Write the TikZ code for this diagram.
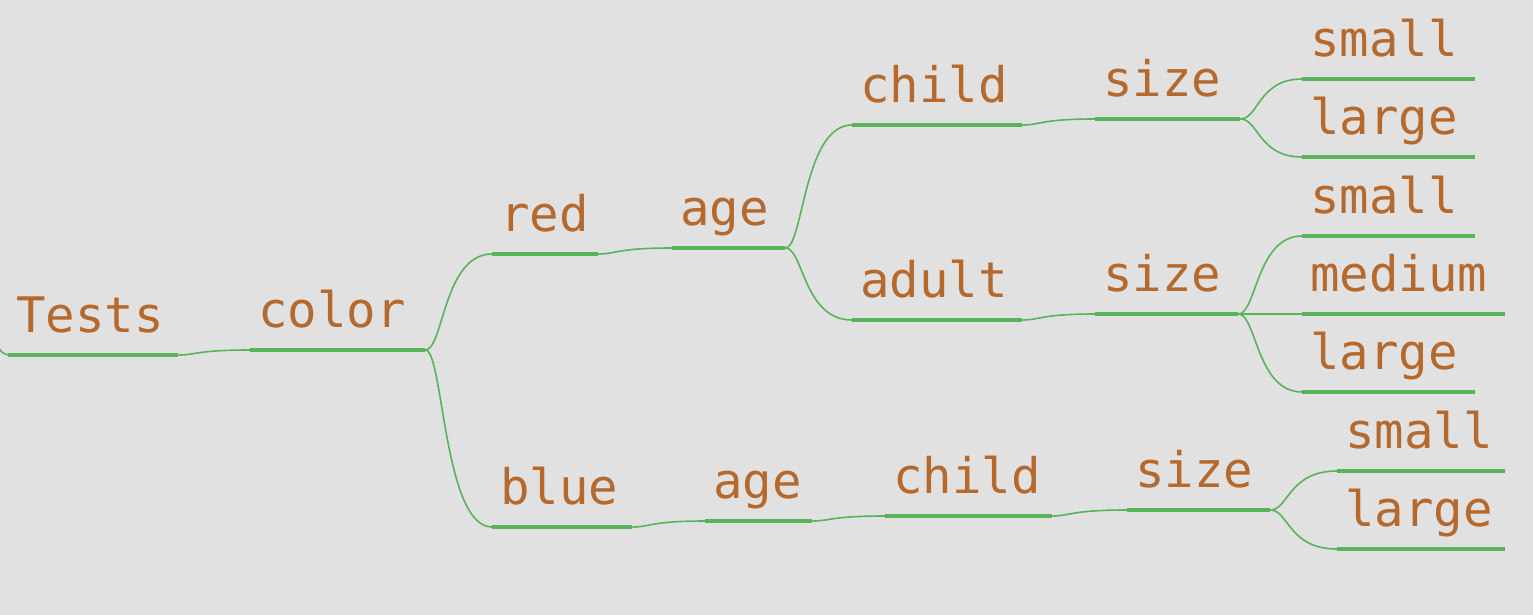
\documentclass[tikz,border=0pt]{standalone}
\usepackage{fontspec}
\setmonofont{DejaVu Sans Mono}
\definecolor{bg}{HTML}{E1E1E1}
\definecolor{txt}{HTML}{B5692D}
\definecolor{ln}{HTML}{5AB25A}
\tikzset{
  topic/.style={anchor=south west, inner xsep=8pt, inner ysep=0pt,
    text height=36pt, text depth=22pt, align=left,
    font=\ttfamily\fontsize{49}{58}\selectfont, text=txt, text width=#1},
  under/.style={draw=ln, line width=3.5pt},
  conn/.style={draw=ln, line width=1.6pt},
}
\newcommand\mmlink[2]{%
  \draw[conn] (#1.south east) .. controls ([xshift=18pt]#1.south east)
    and ([xshift=18pt]#1.south east |- #2.south west) .. (#2.south west);}
\newcommand\mmunder[1]{\draw[under] (#1.south west) -- (#1.south east);}
\begin{document}
\begin{tikzpicture}[x=1pt,y=-1pt]
\useasboundingbox[fill=bg] (0,0) rectangle (1533,615);
% nodes: (start x, underline y), width-16
\node[topic=154] (tests)  at (8,355)    {Tests};
\node[topic=159] (color)  at (250,350)  {color};
\node[topic=90]  (red)    at (492,254)  {red};
\node[topic=97]  (age1)   at (672,248)  {age};
\node[topic=154] (child1) at (852,125)  {child};
\node[topic=129] (size1)  at (1095,119) {size};
\node[topic=157] (small1) at (1302,79)  {small};
\node[topic=157] (large1) at (1302,157) {large};
\node[topic=154] (adult)  at (852,320)  {adult};
\node[topic=127] (size2)  at (1095,314) {size};
\node[topic=157] (small2) at (1302,236) {small};
\node[topic=187] (medium) at (1302,314) {medium};
\node[topic=157] (large2) at (1302,392) {large};
\node[topic=124] (blue)   at (492,527)  {blue};
\node[topic=91]  (age2)   at (705,521)  {age};
\node[topic=151] (child2) at (885,516)  {child};
\node[topic=127] (size3)  at (1127,510) {size};
\node[topic=152] (small3) at (1337,471) {small};
\node[topic=152] (large3) at (1337,549) {large};
% underlines
\foreach \n in {tests,color,red,age1,child1,size1,small1,large1,adult,size2,
  small2,medium,large2,blue,age2,child2,size3,small3,large3}{\mmunder{\n}}
% incoming stub at the left edge
\coordinate (edge) at (-4,338);
\draw[conn] (edge) .. controls (0,352) .. (tests.south west);
% connectors
\mmlink{tests}{color}
\mmlink{color}{red}
\mmlink{color}{blue}
\mmlink{red}{age1}
\mmlink{age1}{child1}
\mmlink{age1}{adult}
\mmlink{child1}{size1}
\mmlink{size1}{small1}
\mmlink{size1}{large1}
\mmlink{adult}{size2}
\mmlink{size2}{small2}
\mmlink{size2}{medium}
\mmlink{size2}{large2}
\mmlink{blue}{age2}
\mmlink{age2}{child2}
\mmlink{child2}{size3}
\mmlink{size3}{small3}
\mmlink{size3}{large3}
\end{tikzpicture}
\end{document}
